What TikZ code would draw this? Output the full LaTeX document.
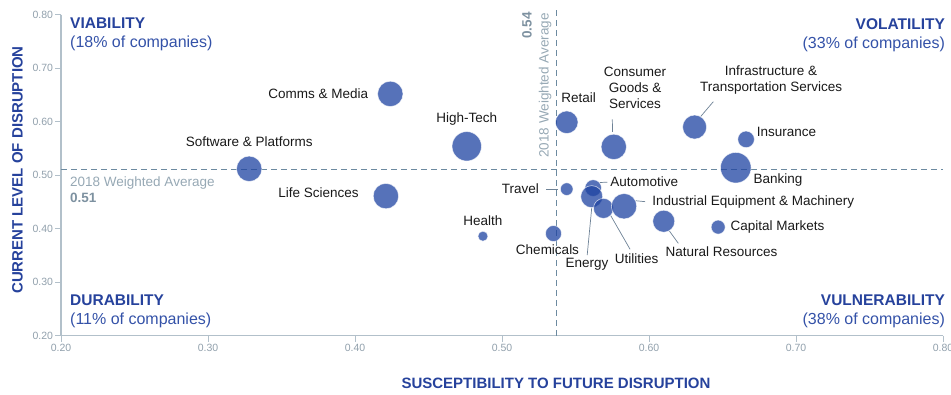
\documentclass[tikz,border=0pt]{standalone}
\usepackage{fontspec}
\setmainfont{Liberation Sans}
\usetikzlibrary{positioning}

\definecolor{bubblefill}{RGB}{30,67,161}
\definecolor{quadblue}{RGB}{38,66,156}
\definecolor{quadlight}{RGB}{52,82,168}
\definecolor{axisgray}{RGB}{178,192,202}
\definecolor{tickgray}{RGB}{145,160,172}
\definecolor{avggray}{RGB}{150,168,180}
\definecolor{avgbold}{RGB}{125,145,160}
\definecolor{avgdash}{RGB}{108,138,160}
\definecolor{leadgray}{RGB}{110,130,150}
\definecolor{labelblack}{RGB}{25,25,25}

\tikzset{
  bubble/.style={circle, inner sep=0pt, fill=bubblefill, fill opacity=0.75,
    draw=white, draw opacity=0.7, line width=0.6pt},
  sector/.style={font=\fontsize{13.5}{16}\selectfont, text=labelblack, inner sep=1pt},
  leader/.style={draw=leadgray, line width=0.7pt},
  quadrant/.style={font=\fontsize{16}{19}\selectfont, text=quadlight, inner sep=0pt},
  axistitle/.style={font=\fontsize{15}{18}\selectfont\bfseries, text=quadblue, inner sep=0pt},
  ticklabel/.style={font=\fontsize{10.5}{12}\selectfont, text=tickgray, inner sep=1.5pt},
  avgline/.style={draw=avgdash, line width=0.9pt, dash pattern=on 6pt off 4pt},
  avgtext/.style={font=\fontsize{13.5}{15}\selectfont, text=avggray, inner sep=0pt}
}
\newcommand{\quadname}[1]{{\fontsize{15.5}{19}\selectfont\bfseries\color{quadblue}#1}}

\begin{document}
\begin{tikzpicture}[x=1470pt, y=535pt]
  \useasboundingbox (0.1585,0.091) rectangle (0.8054,0.8275);

  % axes
  \draw[axisgray, line width=1.4pt] (0.2,0.8) -- (0.2,0.2) -- (0.8,0.2);
  \foreach \v [count=\i] in {0.20,0.30,0.40,0.50,0.60,0.70,0.80} {
    \draw[axisgray, line width=1pt] (\v,0.2) -- ++(0,-6pt)
      node[ticklabel, below] (xt\i) {\v};
    \draw[axisgray, line width=1pt] (0.2,\v) -- ++(-6pt,0)
      node[ticklabel, left] (yt\i) {\v};
  }
  \node[axistitle] (xtitle) at (0.5367,0.1116) {SUSCEPTIBILITY TO FUTURE DISRUPTION};
  \node[axistitle, rotate=90] (ytitle) at (0.1704,0.5097) {CURRENT LEVEL OF DISRUPTION};

  % weighted averages
  \draw[avgline] (0.2,0.51) -- (0.8,0.51);
  \draw[avgline] (0.537,0.2) -- (0.537,0.809);
  \node[avgtext, anchor=west] (havg) at (0.2061,0.486) {2018 Weighted Average};
  \node[avgtext, anchor=west, text=avgbold, font=\fontsize{13.5}{15}\selectfont\bfseries]
    (havgv) at (0.2061,0.4568) {0.51};
  \node[avgtext, rotate=90, anchor=east] (vavg) at (0.5293,0.8032) {2018 Weighted Average};
  \node[avgtext, rotate=90, anchor=east, text=avgbold, font=\fontsize{13.5}{15}\selectfont\bfseries]
    (vavgv) at (0.517,0.805) {0.54};

  % quadrants
  \node[quadrant, anchor=west, align=left] (viab) at (0.2061,0.7624)
    {\quadname{VIABILITY}\\(18\% of companies)};
  \node[quadrant, anchor=east, align=right] (vola) at (0.8014,0.7624)
    {\quadname{VOLATILITY}\\(33\% of companies)};
  \node[quadrant, anchor=west, align=left] (dura) at (0.2061,0.2455)
    {\quadname{DURABILITY}\\(11\% of companies)};
  \node[quadrant, anchor=east, align=right] (vuln) at (0.8014,0.2455)
    {\quadname{VULNERABILITY}\\(38\% of companies)};

  % industries
  \foreach \n/\x/\y/\d in {comms/0.424/0.652/25.4, high/0.476/0.554/29.4,
      soft/0.328/0.512/25.4, life/0.421/0.461/25.4, retail/0.544/0.599/22.6,
      cons/0.576/0.553/25.4, infra/0.631/0.590/24, ins/0.666/0.567/16.6,
      bank/0.659/0.514/30.6, travel/0.544/0.474/12.6, auto/0.562/0.476/16.6,
      energy/0.561/0.460/22, util/0.569/0.438/20, indus/0.583/0.442/25.4,
      natres/0.610/0.414/22, cap/0.647/0.403/14, health/0.487/0.386/10,
      chem/0.535/0.391/16}
    \node[bubble, minimum size=\d pt] (\n) at (\x,\y) {};

  \node[sector, left=8pt of comms] (commsL) {Comms \& Media};
  \node[sector, above=5pt of high] (highL) {High-Tech};
  \node[sector, above=8pt of soft] (softL) {Software \& Platforms};
  \node[sector, left=13pt of life, yshift=3pt] (lifeL) {Life Sciences};
  \node[sector, above=7pt of retail, xshift=12pt] (retailL) {Retail};
  \node[sector, align=center] (consL) at (0.5905,0.663) {Consumer\\Goods \&\\Services};
  \node[sector, align=center] (infraL) at (0.683,0.677)
    {Infrastructure \&\\Transportation Services};
  \node[sector, right=1pt of ins, yshift=7pt] (insL) {Insurance};
  \node[sector, right=1pt of bank, yshift=-12pt] (bankL) {Banking};
  \node[sector, left=20pt of travel] (travelL) {Travel};
  \node[sector, right=7.5pt of auto, yshift=6pt] (autoL) {Automotive};
  \node[sector, right=14pt of indus, yshift=4pt] (indusL) {Industrial Equipment \& Machinery};
  \node[sector, right=4pt of cap] (capL) {Capital Markets};
  \node[sector] (natresL) at (0.6493,0.357) {Natural Resources};
  \node[sector] (utilL) at (0.5915,0.3434) {Utilities};
  \node[sector] (energyL) at (0.5578,0.3335) {Energy};
  \node[sector, below=2pt of chem, xshift=-6pt] (chemL) {Chemicals};
  \node[sector, above=4pt of health] (healthL) {Health};

  % leaders
  \coordinate (consE) at (0.575,0.6045);
  \coordinate (infraE) at (0.6437,0.6374);
  \coordinate (natresE) at (0.6199,0.3727);
  \coordinate (utilE) at (0.5871,0.3615);
  \draw[leader, shorten <=2pt] (cons.95) -- (consE);
  \draw[leader] (infra.60) -- (infraE);
  \draw[leader, shorten <=6pt, shorten >=2pt] (travelL.east) -- (travel.west);
  \draw[leader, shorten >=2pt] (auto.40) -- (autoL.west);
  \draw[leader, shorten >=6pt] (indus.25) -- (indusL.west);
  \draw[leader] (natres.-60) -- (natresE);
  \draw[leader] (util.-45) -- (utilE);
  \draw[leader, shorten >=2pt] (energy.south) -- (energyL.north);
\end{tikzpicture}
\end{document}
